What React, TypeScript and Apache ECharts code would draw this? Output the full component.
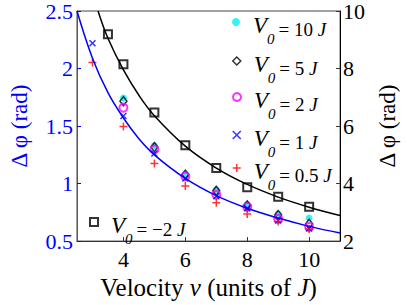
import React, { useEffect, useRef } from "react";
import * as echarts from "echarts";

// ---- data ----
const vAll = [3, 4, 5, 6, 7, 8, 9, 10];
const vMain = [4, 5, 6, 7, 8, 9, 10];
const vSquare = [3.5, 4, 5, 6, 7, 8, 9, 10];

const dphiV10 = [1.744, 1.33, 1.085, 0.945, 0.819, 0.735, 0.7];
const dphiV5 = [1.716, 1.317, 1.077, 0.937, 0.81, 0.727, 0.651];
const dphiV2 = [1.66, 1.296, 1.063, 0.903, 0.797, 0.693, 0.623];
const dphiV1 = [2.22, 1.587, 1.262, 1.044, 0.89, 0.786, 0.679, 0.609];
const dphiV05 = [2.052, 1.497, 1.175, 0.98, 0.833, 0.735, 0.67, 0.605];
const dphiVm2 = [9.19, 8.15, 6.47, 5.33, 4.54, 3.87, 3.54, 3.19];

// fitted curves
const fitBlueX = [2.5, 3, 3.5, 4, 4.5, 5, 6, 7, 8, 9, 10, 11];
const fitBlueY = [2.5, 2.09, 1.79, 1.57, 1.39, 1.25, 1.045, 0.895, 0.785, 0.7, 0.628, 0.57];
const fitBlackX = [3.18, 3.5, 4, 4.5, 5, 6, 7, 8, 9, 10, 11];
const fitBlackY = [10, 9.05, 7.95, 7.07, 6.36, 5.3, 4.54, 3.97, 3.53, 3.18, 2.89];

const xTicks = [4, 6, 8, 10];
const legendNames = ["V0 = 10 J", "V0 = 5 J", "V0 = 2 J", "V0 = 1 J", "V0 = 0.5 J", "V0 = −2 J"];
const legendValues = ["10", "5", "2", "1", "0.5", "−2"];

const FONT = "Liberation Serif";
const zip = (xs: number[], ys: number[]) => xs.map((x, i) => [x, ys[i]]);
const CROSS = "path://M0,0L10,10M10,0L0,10";
const PLUS = "path://M5,0L5,10M0,5L10,5";

const rich = {
  v: { fontFamily: FONT, fontSize: 23, lineHeight: 23, fontStyle: "italic", padding: [6, 0, 0, 8], verticalAlign: "middle", color: "#000" },
  s: { fontFamily: FONT, fontSize: 15, lineHeight: 15, fontStyle: "italic", padding: [33, 0, 0, 0], verticalAlign: "middle", color: "#000" },
  t: { fontFamily: FONT, fontSize: 19, lineHeight: 19, padding: [14, 0, 0, 4], verticalAlign: "middle", color: "#000" },
  j: { fontFamily: FONT, fontSize: 19, lineHeight: 19, fontStyle: "italic", padding: [14, 0, 0, 0], verticalAlign: "middle", color: "#000" },
};
const H = 48;

function makeLegend(i: number, cx: number, cy: number, bw: number) {
  return {
    data: [legendNames[i]],
    left: cx - 4,
    top: cy - H / 2,
    padding: 0,
    itemWidth: 8,
    itemHeight: 8,
    selectedMode: false,
    itemStyle: { borderWidth: bw },
    formatter: () => `{v|V}{s|0}{t|= ${legendValues[i]} }{j|J}`,
    textStyle: { rich, fontFamily: FONT },
  };
}

const css = `.serif-chart text, .serif-chart tspan { font-family: "Liberation Serif", "Times New Roman", serif !important; }`;

export default function App() {
  const ref = useRef<HTMLDivElement>(null);
  useEffect(() => {
    if (!ref.current) return;
    const chart = echarts.init(ref.current, undefined, { renderer: "svg" });
    const tr = "rgba(0,0,0,0)";
    chart.setOption({
      animation: false,
      grid: { left: 69, right: 53, top: 10, bottom: 57, show: true, borderColor: "#444", borderWidth: 1 },
      xAxis: {
        type: "value",
        min: 2.5,
        max: 11,
        axisLine: { onZero: false, lineStyle: { color: "#333", width: 1 } },
        axisTick: { inside: true, length: 4, customValues: xTicks, lineStyle: { color: "#333" } },
        axisLabel: { customValues: xTicks, fontSize: 22, color: "#000", margin: 7, fontFamily: FONT },
        splitLine: { show: false },
        name: "{n|Velocity }{i|v}{n| (units of }{i|J}{n|)}",
        nameLocation: "middle",
        nameGap: 27,
        nameTextStyle: {
          fontSize: 25,
          fontFamily: FONT,
          color: "#000",
          rich: {
            n: { fontSize: 25, fontFamily: FONT, color: "#000" },
            i: { fontSize: 25, fontFamily: FONT, color: "#000", fontStyle: "italic" },
          },
        },
      },
      yAxis: [
        {
          type: "value",
          position: "left",
          min: 0.5,
          max: 2.5,
          interval: 0.5,
          axisLine: { show: true, onZero: false, lineStyle: { color: "#4444ff", width: 1 } },
          axisTick: { show: true, inside: true, length: 4, lineStyle: { color: "#0000ff" } },
          axisLabel: { fontSize: 22, color: "#0000ff", margin: 4, fontFamily: FONT },
          splitLine: { show: false },
          name: "Δ φ (rad)",
          nameLocation: "middle",
          nameRotate: 90,
          nameGap: 46,
          nameTextStyle: { fontSize: 23, color: "#0000ff", fontFamily: FONT },
        },
        {
          type: "value",
          position: "right",
          min: 2,
          max: 10,
          interval: 2,
          axisLine: { show: true, onZero: false, lineStyle: { color: "#000", width: 1 } },
          axisTick: { show: true, inside: true, length: 4, lineStyle: { color: "#333" } },
          axisLabel: { fontSize: 22, color: "#000", margin: 3, fontFamily: FONT },
          splitLine: { show: false },
          name: "Δ φ (rad)",
          nameLocation: "middle",
          nameRotate: 90,
          nameGap: 28,
          nameTextStyle: { fontSize: 23, color: "#000", fontFamily: FONT },
        },
      ],
      legend: [
        makeLegend(0, 236, 22, 0),
        makeLegend(1, 236, 61, 1.5),
        makeLegend(2, 236, 97, 2),
        makeLegend(3, 236, 135, 1.5),
        makeLegend(4, 236, 168, 1.5),
        makeLegend(5, 93, 222, 2),
      ],
      series: [
        {
          type: "line",
          data: zip(fitBlueX, fitBlueY),
          yAxisIndex: 0,
          smooth: 0.4,
          showSymbol: false,
          lineStyle: { color: "#0000ff", width: 1.5 },
          silent: true,
        },
        {
          type: "line",
          data: zip(fitBlackX, fitBlackY),
          yAxisIndex: 1,
          smooth: 0.4,
          showSymbol: false,
          lineStyle: { color: "#000", width: 1.5 },
          silent: true,
        },
        {
          name: legendNames[5],
          type: "scatter",
          yAxisIndex: 1,
          data: zip(vSquare, dphiVm2),
          symbol: "rect",
          symbolSize: 8,
          itemStyle: { color: "#fff", borderColor: "#000", borderWidth: 2 },
        },
        {
          name: legendNames[0],
          type: "scatter",
          data: zip(vMain, dphiV10),
          symbol: "circle",
          symbolSize: 7,
          itemStyle: { color: "#00f0f0" },
        },
        {
          name: legendNames[1],
          type: "scatter",
          data: zip(vMain, dphiV5),
          symbol: "diamond",
          symbolSize: [7, 9],
          itemStyle: { color: tr, borderColor: "#000", borderWidth: 1.5 },
        },
        {
          name: legendNames[2],
          type: "scatter",
          data: zip(vMain, dphiV2),
          symbol: "circle",
          symbolSize: 8,
          itemStyle: { color: tr, borderColor: "#ff00ff", borderWidth: 2 },
        },
        {
          name: legendNames[3],
          type: "scatter",
          data: zip(vAll, dphiV1),
          symbol: CROSS,
          symbolSize: 6,
          itemStyle: { color: "#0000ff", borderColor: "#0000ff", borderWidth: 1.5 },
        },
        {
          name: legendNames[4],
          type: "scatter",
          data: zip(vAll, dphiV05),
          symbol: PLUS,
          symbolSize: 8,
          itemStyle: { color: "#ff0000", borderColor: "#ff0000", borderWidth: 1.5 },
        },
      ],
    });
    return () => chart.dispose();
  }, []);
  return (
    <>
      <style>{css}</style>
      <div className="serif-chart" ref={ref} style={{ width: 407, height: 305, position: "absolute", left: 0, top: 0 }} />
    </>
  );
}
